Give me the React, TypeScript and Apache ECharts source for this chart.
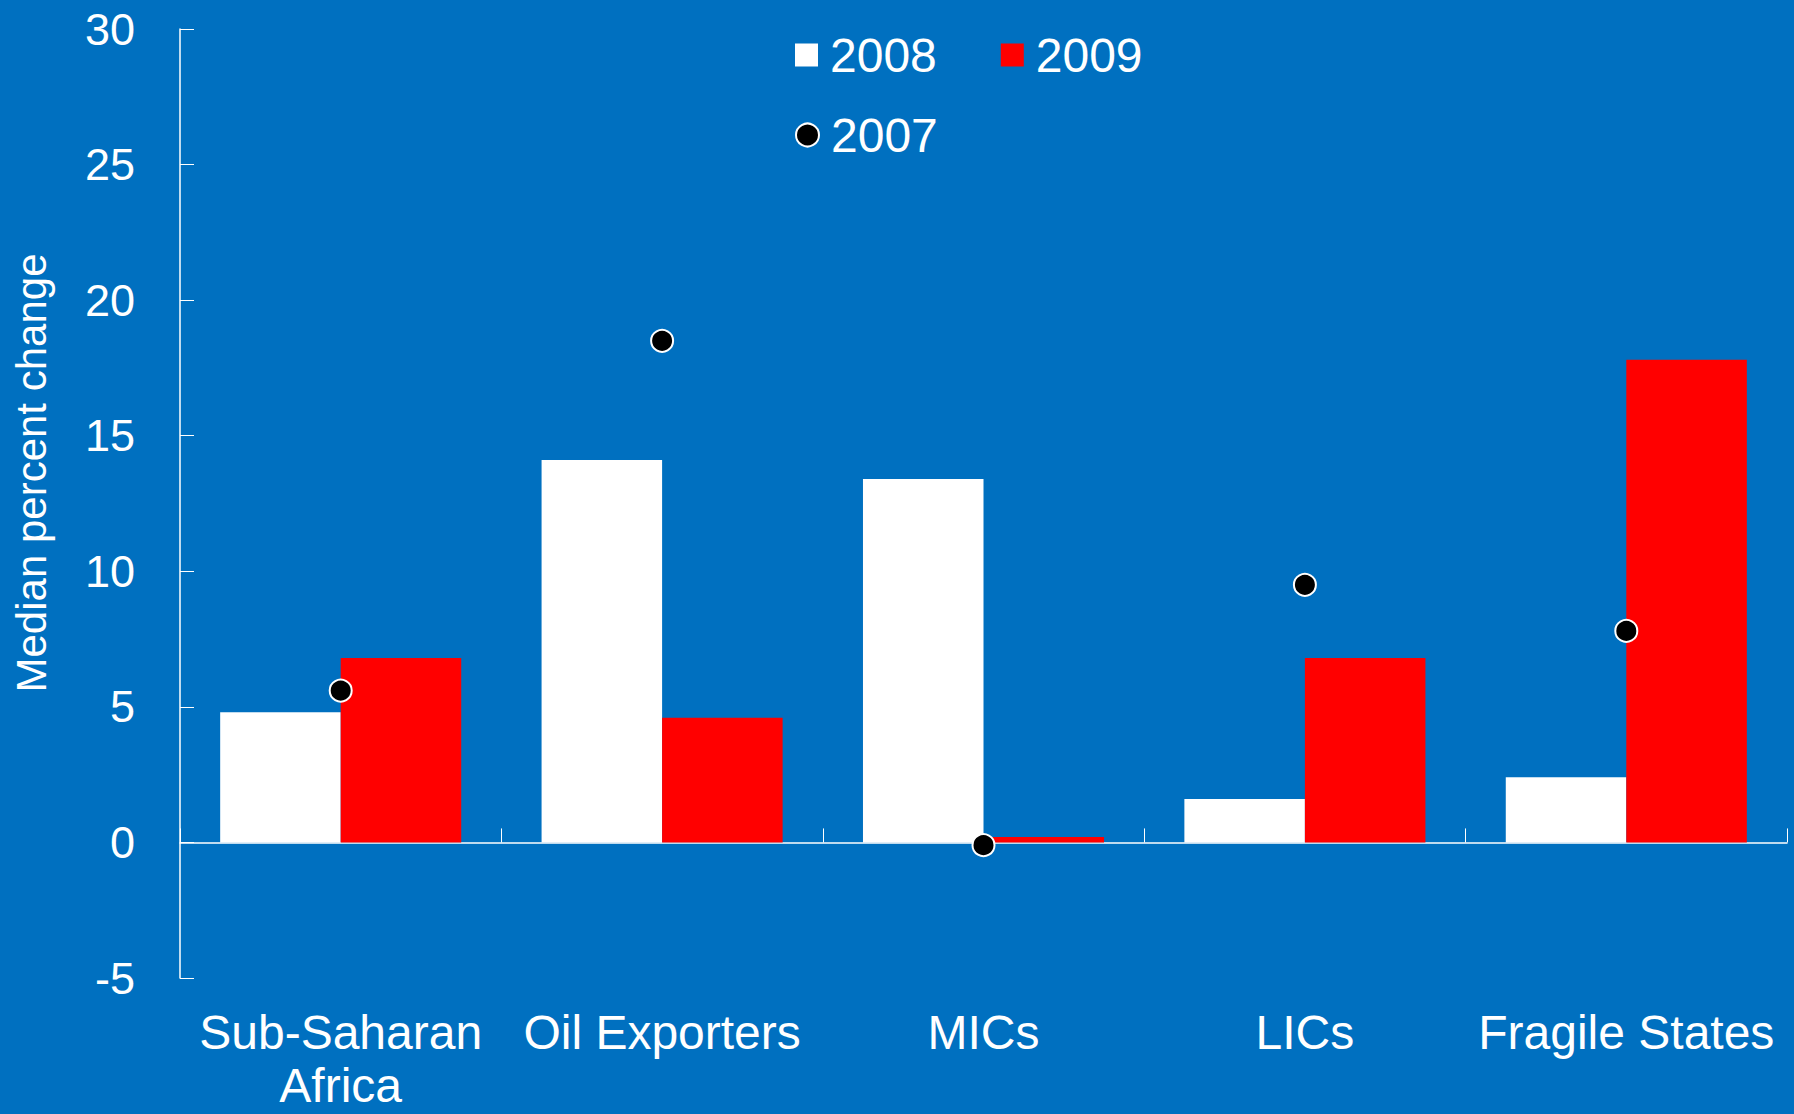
import React, { useEffect, useRef } from "react";
import * as echarts from "echarts";

const categories = ["Sub-Saharan\nAfrica", "Oil Exporters", "MICs", "LICs", "Fragile States"];
const values2008 = [4.8, 14.1, 13.4, 1.6, 2.4];
const values2009 = [6.8, 4.6, 0.2, 6.8, 17.8];
const values2007 = [5.6, 18.5, -0.1, 9.5, 7.8];
const yTicks = { min: -5, max: 30, interval: 5 };

const FONT = "'Liberation Sans', Arial, sans-serif";
const BG = "#0070C0";

export default function App() {
  const ref = useRef<HTMLDivElement>(null);
  useEffect(() => {
    if (!ref.current) return;
    const chart = echarts.init(ref.current, null, { renderer: "svg" });
    chart.setOption({
      animation: false,
      backgroundColor: BG,
      textStyle: { fontFamily: FONT },
      grid: { left: 180, right: 7, top: 29, bottom: 136 },
      legend: [
        {
          data: [{ name: "2008", icon: "rect" }, { name: "2009", icon: "rect" }],
          left: 795,
          top: 31,
          padding: 0,
          itemWidth: 23,
          itemHeight: 23,
          itemGap: 64,
          textStyle: { color: "#fff", fontSize: 48, fontFamily: FONT, padding: [0, 0, 0, 7] },
        },
        {
          data: [{ name: "2007", icon: "circle" }],
          left: 795,
          top: 111,
          padding: 0,
          itemWidth: 23,
          itemHeight: 23,
          textStyle: { color: "#fff", fontSize: 48, fontFamily: FONT, padding: [0, 0, 0, 7] },
        },
      ],
      xAxis: [
        {
          type: "category",
          data: categories,
          axisLine: { show: true, onZero: true, lineStyle: { color: "#fff", width: 1.5 } },
          axisTick: { show: true, inside: true, length: 14, lineStyle: { color: "#fff" } },
          axisLabel: { show: false },
          splitLine: { show: false },
        },
        {
          type: "category",
          data: categories,
          position: "bottom",
          axisLine: { show: false, onZero: false },
          axisTick: { show: false },
          axisLabel: {
            show: true,
            interval: 0,
            color: "#fff",
            fontSize: 48,
            fontFamily: FONT,
            lineHeight: 53,
            margin: 28,
          },
          splitLine: { show: false },
        },
      ],
      yAxis: {
        type: "value",
        min: yTicks.min,
        max: yTicks.max,
        interval: yTicks.interval,
        axisLine: { show: true, onZero: false, lineStyle: { color: "#fff", width: 1.5 } },
        axisTick: { show: true, inside: true, length: 14, lineStyle: { color: "#fff" } },
        axisLabel: { color: "#fff", fontSize: 45, fontFamily: FONT, margin: 45 },
        splitLine: { show: false },
      },
      graphic: [
        {
          type: "text",
          x: 31,
          y: 473,
          rotation: Math.PI / 2,
          style: {
            text: "Median percent change",
            fill: "#fff",
            fontSize: 42,
            fontFamily: FONT,
            textAlign: "center",
            textVerticalAlign: "middle",
          },
        },
      ],
      series: [
        {
          name: "2008",
          type: "bar",
          xAxisIndex: 0,
          data: values2008,
          barGap: "0%",
          barCategoryGap: "25%",
          itemStyle: { color: "#FFFFFF" },
        },
        {
          name: "2009",
          type: "bar",
          xAxisIndex: 0,
          data: values2009,
          barGap: "0%",
          barCategoryGap: "25%",
          itemStyle: { color: "#FF0000" },
        },
        {
          name: "2007",
          type: "scatter",
          xAxisIndex: 0,
          data: values2007,
          symbol: "circle",
          symbolSize: 22,
          z: 5,
          itemStyle: { color: "#000", borderColor: "#fff", borderWidth: 2, opacity: 1 },
        },
      ],
    });
    return () => chart.dispose();
  }, []);
  return (
    <div
      ref={ref}
      style={{ position: "absolute", left: 0, top: 0, width: 1794, height: 1114 }}
    />
  );
}
